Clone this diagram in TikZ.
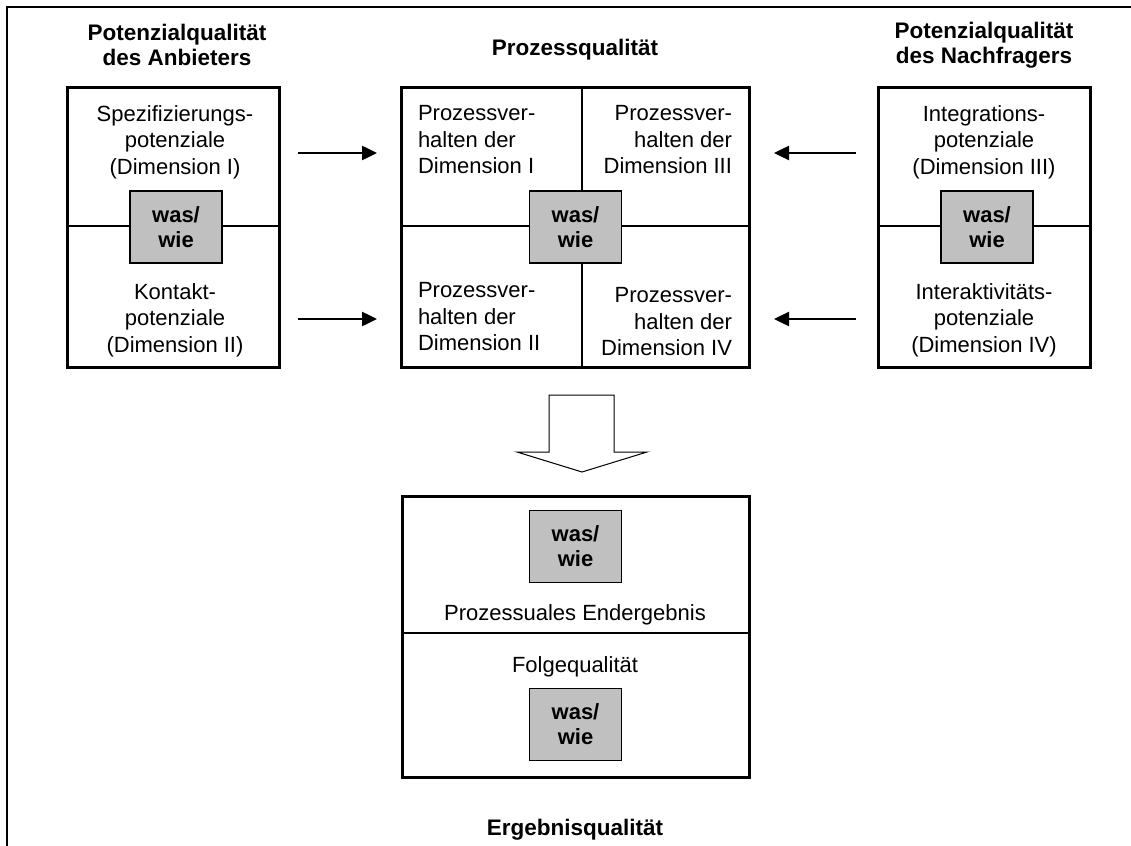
\documentclass[tikz,border=0pt]{standalone}
\usepackage{fontspec}
\setmainfont{Liberation Sans}
\usetikzlibrary{arrows.meta,calc}
\definecolor{wwgray}{HTML}{C0C0C0}
\begin{document}
\begin{tikzpicture}[x=1pt,y=-1pt,
  every node/.style={inner sep=0pt,outer sep=0pt,font=\fontsize{22}{26.5}\selectfont},
  frameline/.style={line width=2pt,line cap=rect},
  qualbox/.style={draw,line width=3pt,rectangle},
  divider/.style={line width=2pt},
  wwbox/.style={draw,line width=1.4pt,fill=wwgray,rectangle,minimum width=92pt,
    minimum height=72pt,align=center,font=\fontsize{22}{25}\selectfont\bfseries},
  txt/.style={align=center},
  title/.style={align=center,font=\fontsize{22.5}{25}\selectfont\bfseries},
  flow/.style={line width=2.5pt,-{Triangle[length=15pt,width=14pt]}},
  blockarrow/.style={draw,line width=1pt,fill=white,line join=miter}]
\useasboundingbox (0,0) rectangle (1131,845);

% outer frame (left and top edges)
\draw[frameline] (7,845) -- (7,7) -- (1131,7);

% titles
\node[title] (tanb) at (177,45) {Potenzialqualität\\des Anbieters};
\node[title] (tproz) at (575,50) {Prozessqualität};
\node[title] (tnach) at (984,45) {Potenzialqualität\\des Nachfragers};
\node[title] (terg) at (575,830) {Ergebnisqualität};

% main boxes
\node[qualbox,minimum width=212pt,minimum height=279pt] (anb) at (173,227.5) {};
\node[qualbox,minimum width=348pt,minimum height=279pt] (proz) at (575,227.5) {};
\node[qualbox,minimum width=212pt,minimum height=279pt] (nach) at (984,227.5) {};
\node[qualbox,minimum width=347pt,minimum height=281pt] (erg) at (575.5,636.5) {};

% dividers
\draw[divider] ([yshift=1.5pt]anb.west) -- ([yshift=1.5pt]anb.east);
\draw[divider] ([yshift=1.5pt]proz.west) -- ([yshift=1.5pt]proz.east);
\draw[divider] ([xshift=7pt]proz.north) -- ([xshift=7pt]proz.south);
\draw[divider] ([yshift=3.5pt]erg.west) -- ([yshift=3.5pt]erg.east);
\draw[divider] ([yshift=1.5pt]nach.west) -- ([yshift=1.5pt]nach.east);

% texts in the potential boxes
\node[txt] (spez) at (175,142) {Spezifizierungs-\\potenziale\\(Dimension I)};
\node[txt] (kont) at (175,320) {Kontakt-\\potenziale\\(Dimension II)};
\node[txt] (integ) at (984,142) {Integrations-\\potenziale\\(Dimension III)};
\node[txt] (inter) at (984,320) {Interaktivitäts-\\potenziale\\(Dimension IV)};

% process quadrants
\node[align=left,anchor=west] (p1) at (418,140) {Prozessver-\\halten der\\Dimension I};
\node[align=right,anchor=east] (p3) at (732,140) {Prozessver-\\halten der\\Dimension III};
\node[align=left,anchor=west] (p2) at (418,317) {Prozessver-\\halten der\\Dimension II};
\node[align=right,anchor=east] (p4) at (732,322) {Prozessver-\\halten der\\Dimension IV};

% result box texts
\node (endg) at (575,615) {Prozessuales Endergebnis};
\node (folg) at (575,667) {Folgequalität};

% was/wie boxes
\node[wwbox] (w1) at (176,227) {was/\\wie};
\node[wwbox] (w2) at (575.5,227) {was/\\wie};
\node[wwbox] (w3) at (987,227) {was/\\wie};
\node[wwbox] (w4) at (575.5,546.5) {was/\\wie};
\node[wwbox] (w5) at (575.5,724.5) {was/\\wie};

% arrows into the process box
\draw[flow] ($(anb.east)+(19,-74.5)$) -- ($(proz.west)+(-24,-74.5)$);
\draw[flow] ($(anb.east)+(19,91.5)$) -- ($(proz.west)+(-24,91.5)$);
\draw[flow] ($(nach.west)+(-22,-74.5)$) -- ($(proz.east)+(25,-74.5)$);
\draw[flow] ($(nach.west)+(-22,91.5)$) -- ($(proz.east)+(25,91.5)$);

% block arrow from process to result
\draw[blockarrow] (549,395) -- (614,395) -- (614,452) -- (647,452) -- (582,472)
  -- (517,452) -- (549,452) -- cycle;
\end{tikzpicture}
\end{document}
